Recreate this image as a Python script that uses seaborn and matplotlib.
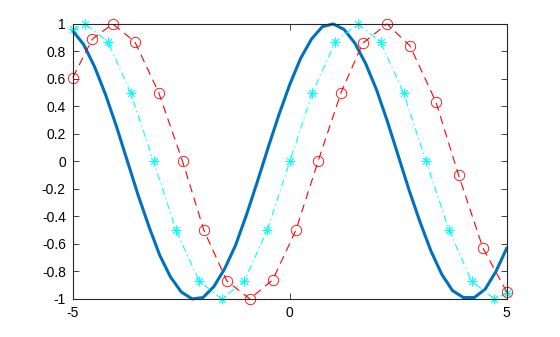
import matplotlib
matplotlib.use("Agg")
import matplotlib.pyplot as plt
import seaborn as sns
import pandas as pd

# Blue solid curve
blue_x = [-5.0, -4.75, -4.5, -4.25, -4.0, -3.75, -3.5, -3.25, -3.0, -2.75, -2.5,
          -2.25, -2.0, -1.75, -1.5, -1.25, -1.0, -0.75, -0.5, -0.25, 0.0,
          0.25, 0.5, 0.75, 1.0, 1.25, 1.5, 1.75, 2.0, 2.25, 2.5,
          2.75, 3.0, 3.25, 3.5, 3.75, 4.0, 4.25, 4.5, 4.75, 5.0]
blue_y = [0.95, 0.85, 0.69, 0.49, 0.26, 0.01, -0.24, -0.47, -0.68, -0.84, -0.95,
          -1.00, -0.99, -0.91, -0.78, -0.61, -0.39, -0.15, 0.10, 0.34, 0.56,
          0.75, 0.89, 0.98, 1.00, 0.96, 0.86, 0.71, 0.52, 0.29, 0.04,
          -0.21, -0.44, -0.65, -0.82, -0.94, -0.99, -0.99, -0.93, -0.80, -0.63]

# Cyan dash-dot curve with asterisk markers
cyan_x = [-5.00, -4.71, -4.19, -3.67, -3.14, -2.62, -2.09, -1.57, -1.05, -0.52, 0.00,
          0.52, 1.05, 1.57, 2.09, 2.62, 3.14, 3.67, 4.19, 4.71, 5.00]
cyan_y = [0.96, 1.00, 0.87, 0.50, 0.00, -0.50, -0.87, -1.00, -0.87, -0.50, 0.00,
          0.50, 0.87, 1.00, 0.87, 0.50, 0.00, -0.50, -0.87, -1.00, -0.96]

# Red dashed curve with circle markers
red_x = [-5.00, -4.55, -4.08, -3.57, -3.02, -2.47, -1.98, -1.45, -0.92, -0.39,
         0.14, 0.65, 1.18, 1.68, 2.24, 2.77, 3.37, 3.89, 4.45, 5.00]
red_y = [0.61, 0.89, 1.00, 0.87, 0.50, 0.00, -0.50, -0.87, -1.00, -0.86,
         -0.50, 0.00, 0.50, 0.86, 1.00, 0.84, 0.43, -0.10, -0.63, -0.95]

x_ticks = [-5, 0, 5]
x_labels = ["-5", "0", "5"]
y_ticks = [-1, -0.8, -0.6, -0.4, -0.2, 0, 0.2, 0.4, 0.6, 0.8, 1]
y_labels = ["-1", "-0.8", "-0.6", "-0.4", "-0.2", "0", "0.2", "0.4", "0.6", "0.8", "1"]

sns.set_style("ticks")
plt.rcParams["font.family"] = ["Liberation Sans", "DejaVu Sans"]
plt.rcParams["axes.unicode_minus"] = False
plt.rcParams["lines.scale_dashes"] = False

fig = plt.figure(figsize=(5.6, 3.37), dpi=100)
ax = fig.add_axes([0.13, 0.113, 0.775, 0.816])

df_b = pd.DataFrame({"x": blue_x, "y": blue_y})
df_c = pd.DataFrame({"x": cyan_x, "y": cyan_y})
df_r = pd.DataFrame({"x": red_x, "y": red_y})

sns.lineplot(data=df_b, x="x", y="y", ax=ax, color="#0072BD", linewidth=2.2,
             estimator=None, sort=False, solid_joinstyle="round",
             solid_capstyle="round")
sns.lineplot(data=df_c, x="x", y="y", ax=ax, color="#00FFFF", linewidth=0.8,
             linestyle=(0, (5, 2.5, 1, 2.5)), marker=(8, 2, 0), markersize=7,
             markeredgecolor="#00FFFF", markerfacecolor="#00FFFF",
             markeredgewidth=0.6, estimator=None, sort=False)
sns.lineplot(data=df_r, x="x", y="y", ax=ax, color="#FF0000", linewidth=0.8,
             linestyle=(0, (6, 4)), marker="o", markersize=7.5,
             markerfacecolor="none", markeredgecolor="#FF0000",
             markeredgewidth=0.6, estimator=None, sort=False)

for ln in ax.get_lines():
    ln.set_clip_on(False)

ax.set_xlim(-5, 5)
ax.set_ylim(-1, 1)
ax.set_xticks(x_ticks)
ax.set_xticklabels(x_labels)
ax.set_yticks(y_ticks)
ax.set_yticklabels(y_labels)
ax.set_xlabel("")
ax.set_ylabel("")
for s in ax.spines.values():
    s.set_visible(True)
    s.set_linewidth(0.8)
    s.set_color("#262626")
ax.tick_params(direction="in", length=4, width=0.6, colors="#262626",
               labelsize=10, labelcolor="black", top=True, right=True,
               labeltop=False, labelright=False, pad=5)

fig.savefig("out.png", dpi=100)
